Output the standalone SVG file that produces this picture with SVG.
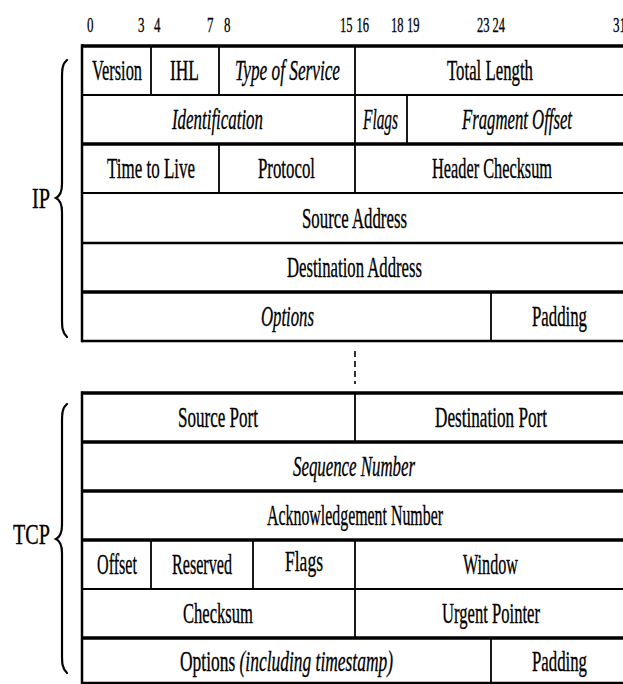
<svg xmlns="http://www.w3.org/2000/svg" width="623" height="684" viewBox="0 0 623 684">
<style>
text{font-family:"Liberation Serif","Times New Roman",serif;font-size:30px;fill:#000;stroke:#000;stroke-width:0.35}
.n{font-size:20px;stroke-width:0.3}
.i{font-style:italic}
.lbl{font-size:30px}
.thick{stroke:#000;stroke-width:3.5}
.med{stroke:#000;stroke-width:2.5}
.thin{stroke:#000;stroke-width:1.8}
.brace{fill:none;stroke:#000;stroke-width:2.2;stroke-linecap:round}
</style>
<rect width="623" height="684" fill="#fff"/>
<g id="bit-numbers">
<text class="n" x="87" y="32" textLength="6.5" lengthAdjust="spacingAndGlyphs">0</text>
<text class="n" x="138" y="32" textLength="6.5" lengthAdjust="spacingAndGlyphs">3</text>
<text class="n" x="154" y="32" textLength="6.5" lengthAdjust="spacingAndGlyphs">4</text>
<text class="n" x="207" y="32" textLength="6.5" lengthAdjust="spacingAndGlyphs">7</text>
<text class="n" x="224" y="32" textLength="6.5" lengthAdjust="spacingAndGlyphs">8</text>
<text class="n" x="340" y="32" textLength="12.5" lengthAdjust="spacingAndGlyphs">15</text>
<text class="n" x="356.5" y="32" textLength="12.5" lengthAdjust="spacingAndGlyphs">16</text>
<text class="n" x="391" y="32" textLength="12.5" lengthAdjust="spacingAndGlyphs">18</text>
<text class="n" x="407" y="32" textLength="12.5" lengthAdjust="spacingAndGlyphs">19</text>
<text class="n" x="477" y="32" textLength="12.5" lengthAdjust="spacingAndGlyphs">23</text>
<text class="n" x="492.5" y="32" textLength="12.5" lengthAdjust="spacingAndGlyphs">24</text>
<text class="n" x="613" y="32" textLength="13" lengthAdjust="spacingAndGlyphs">31</text>
</g>
<g id="connectors">
<g id="grid-ip">
<line class="thick" x1="82" y1="46" x2="630" y2="46"/>
<line class="thin" x1="82" y1="95" x2="630" y2="95"/>
<line class="thick" x1="82" y1="144" x2="630" y2="144"/>
<line class="thin" x1="82" y1="193" x2="630" y2="193"/>
<line class="med" x1="82" y1="243" x2="630" y2="243"/>
<line class="thick" x1="82" y1="292" x2="630" y2="292"/>
<line class="med" x1="82" y1="341" x2="630" y2="341"/>
<line class="med" x1="82" y1="44.3" x2="82" y2="342.2"/>
<line class="thin" x1="151" y1="46" x2="151" y2="95"/>
<line class="thin" x1="219" y1="46" x2="219" y2="95"/>
<line class="thin" x1="355" y1="46" x2="355" y2="95"/>
<line class="thin" x1="355" y1="95" x2="355" y2="144"/>
<line class="thin" x1="407" y1="95" x2="407" y2="144"/>
<line class="thin" x1="219" y1="144" x2="219" y2="193"/>
<line class="thin" x1="355" y1="144" x2="355" y2="193"/>
<line class="thin" x1="491" y1="292" x2="491" y2="341"/>
</g>
<line id="gap" x1="355" y1="351" x2="355" y2="384" stroke="#000" stroke-width="1.6" stroke-dasharray="6 4"/>
<g id="grid-tcp">
<line class="thick" x1="82" y1="393" x2="630" y2="393"/>
<line class="thick" x1="82" y1="442" x2="630" y2="442"/>
<line class="thick" x1="82" y1="491" x2="630" y2="491"/>
<line class="thick" x1="82" y1="540" x2="630" y2="540"/>
<line class="thin" x1="82" y1="589" x2="630" y2="589"/>
<line class="thick" x1="82" y1="638" x2="630" y2="638"/>
<line class="med" x1="82" y1="683" x2="630" y2="683"/>
<line class="med" x1="82" y1="391.3" x2="82" y2="684"/>
<line class="thin" x1="355" y1="393" x2="355" y2="442"/>
<line class="thin" x1="151" y1="540" x2="151" y2="589"/>
<line class="thin" x1="253" y1="540" x2="253" y2="589"/>
<line class="thin" x1="355" y1="540" x2="355" y2="589"/>
<line class="thin" x1="355" y1="589" x2="355" y2="638"/>
<line class="thin" x1="491" y1="638" x2="491" y2="683"/>
</g>
</g>
<g id="ip-brace">
<path class="brace" d="M67,60 C62,64 62,70 62,80 L62,184 C62,192 60,196 56,198 C60,200 62,204 62,212 L62,318 C62,327 62,332 67,337"/>
<text class="lbl" x="32" y="208" textLength="18" lengthAdjust="spacingAndGlyphs">IP</text>
</g>
<g id="tcp-brace">
<path class="brace" d="M67,404 C62,408 62,414 62,424 L62,525 C62,533 60,537 56,539 C60,541 62,545 62,553 L62,654 C62,663 62,668 67,673"/>
<text class="lbl" x="13" y="544" textLength="37" lengthAdjust="spacingAndGlyphs">TCP</text>
</g>
<g id="ip-version"><text x="92" y="80" textLength="50" lengthAdjust="spacingAndGlyphs">Version</text></g>
<g id="ip-ihl"><text x="170" y="80" textLength="29" lengthAdjust="spacingAndGlyphs">IHL</text></g>
<g id="ip-tos"><text class="i" x="235" y="80" textLength="105" lengthAdjust="spacingAndGlyphs">Type of Service</text></g>
<g id="ip-total-length"><text x="447" y="80" textLength="86" lengthAdjust="spacingAndGlyphs">Total Length</text></g>
<g id="ip-identification"><text class="i" x="172" y="129" textLength="91" lengthAdjust="spacingAndGlyphs">Identification</text></g>
<g id="ip-flags"><text class="i" x="363" y="129" textLength="35" lengthAdjust="spacingAndGlyphs">Flags</text></g>
<g id="ip-fragment-offset"><text class="i" x="462" y="129" textLength="110" lengthAdjust="spacingAndGlyphs">Fragment Offset</text></g>
<g id="ip-ttl"><text x="107" y="178" textLength="88" lengthAdjust="spacingAndGlyphs">Time to Live</text></g>
<g id="ip-protocol"><text x="258" y="178" textLength="57" lengthAdjust="spacingAndGlyphs">Protocol</text></g>
<g id="ip-header-checksum"><text x="432" y="178" textLength="120" lengthAdjust="spacingAndGlyphs">Header Checksum</text></g>
<g id="ip-source-address"><text x="302" y="228" textLength="105" lengthAdjust="spacingAndGlyphs">Source Address</text></g>
<g id="ip-destination-address"><text x="287" y="277" textLength="135" lengthAdjust="spacingAndGlyphs">Destination Address</text></g>
<g id="ip-options"><text class="i" x="261" y="326" textLength="53" lengthAdjust="spacingAndGlyphs">Options</text></g>
<g id="ip-padding"><text x="532" y="326" textLength="55" lengthAdjust="spacingAndGlyphs">Padding</text></g>
<g id="tcp-source-port"><text x="178" y="427" textLength="80" lengthAdjust="spacingAndGlyphs">Source Port</text></g>
<g id="tcp-destination-port"><text x="435" y="427" textLength="112" lengthAdjust="spacingAndGlyphs">Destination Port</text></g>
<g id="tcp-sequence-number"><text class="i" x="293" y="476" textLength="122" lengthAdjust="spacingAndGlyphs">Sequence Number</text></g>
<g id="tcp-ack-number"><text x="267" y="525" textLength="176" lengthAdjust="spacingAndGlyphs">Acknowledgement Number</text></g>
<g id="tcp-offset"><text x="97" y="574" textLength="40" lengthAdjust="spacingAndGlyphs">Offset</text></g>
<g id="tcp-reserved"><text x="172" y="574" textLength="60" lengthAdjust="spacingAndGlyphs">Reserved</text></g>
<g id="tcp-flags"><text x="285" y="571" textLength="38" lengthAdjust="spacingAndGlyphs">Flags</text></g>
<g id="tcp-window"><text x="463" y="574" textLength="55" lengthAdjust="spacingAndGlyphs">Window</text></g>
<g id="tcp-checksum"><text x="183" y="623" textLength="70" lengthAdjust="spacingAndGlyphs">Checksum</text></g>
<g id="tcp-urgent-pointer"><text x="442" y="623" textLength="98" lengthAdjust="spacingAndGlyphs">Urgent Pointer</text></g>
<g id="tcp-options"><text x="180" y="671" textLength="213" lengthAdjust="spacingAndGlyphs">Options <tspan class="i">(including timestamp)</tspan></text></g>
<g id="tcp-padding"><text x="532" y="671" textLength="55" lengthAdjust="spacingAndGlyphs">Padding</text></g>
</svg>
